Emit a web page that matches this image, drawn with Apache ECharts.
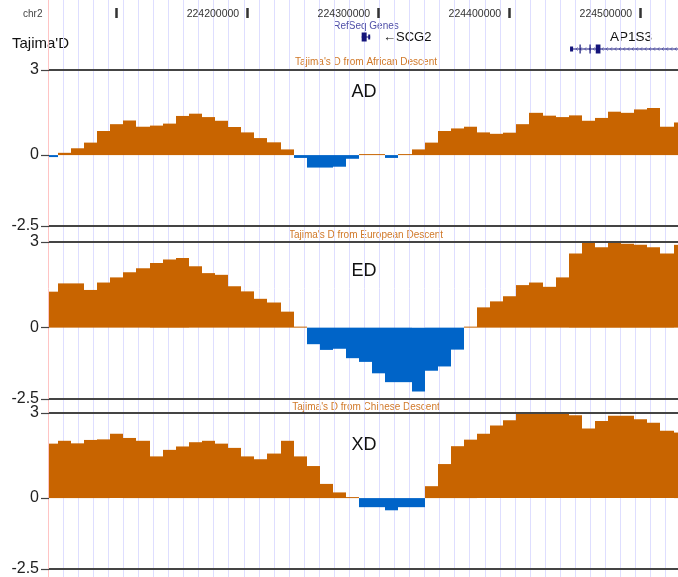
<!DOCTYPE html>
<html><head><meta charset="utf-8">
<script src="https://cdn.jsdelivr.net/npm/echarts@6/dist/echarts.min.js"></script>
<style>html,body{margin:0;padding:0;background:#fff}#main{width:678px;height:577px}</style>
</head><body><div id="main"></div>
<script>
// ---- view / genomic windows ----
const VIEW_START = 224048700;
const VIEW_END = 224528900;
const WINDOW_START = 224045500;   // first (partially visible) 10-kb window
const WINDOW_SIZE = 10000;

// ---- Tajima's D per 10-kb window (first entry is the clipped window at left edge) ----
const adValues = [-0.07, 0.08, 0.24, 0.44, 0.85, 1.09, 1.22, 1.0, 1.04, 1.11, 1.38, 1.46, 1.34, 1.21, 0.99, 0.8, 0.6, 0.45, 0.2,
  -0.1, -0.44, -0.44, -0.41, -0.13, 0.02, 0.02, -0.1, 0.02, 0.2, 0.44, 0.85, 0.94, 1.0, 0.8, 0.75, 0.79, 1.09, 1.49, 1.39, 1.34,
  1.4, 1.21, 1.31, 1.53, 1.49, 1.61, 1.66, 1.0, 1.15];
const edValues = [1.26, 1.55, 1.55, 1.32, 1.58, 1.76, 1.94, 2.08, 2.26, 2.39, 2.44, 2.15, 1.91, 1.85, 1.45, 1.27, 1.01, 0.88, 0.56,
  0.02, -0.58, -0.78, -0.74, -1.07, -1.2, -1.6, -1.91, -1.91, -2.24, -1.51, -1.36, -0.77, 0.02, 0.71, 0.92, 1.1, 1.49, 1.58, 1.43,
  1.76, 2.6, 3.0, 2.82, 3.0, 2.94, 2.9, 2.82, 2.6, 2.9];
const xdValues = [1.92, 2.02, 1.93, 2.05, 2.07, 2.27, 2.12, 2.02, 1.47, 1.7, 1.82, 1.97, 2.02, 1.92, 1.77, 1.47, 1.37, 1.57, 2.02,
  1.47, 1.13, 0.5, 0.2, 0.02, -0.32, -0.32, -0.43, -0.32, -0.32, 0.42, 1.2, 1.83, 2.06, 2.27, 2.56, 2.74, 3.0, 3.0, 3.0, 3.0,
  2.92, 2.45, 2.72, 2.9, 2.9, 2.78, 2.66, 2.37, 2.31];

// ---- axis ticks / labels ----
const rulerTicks = [224100000, 224200000, 224300000, 224400000, 224500000];
const rulerLabels = [224200000, 224300000, 224400000, 224500000];
const yTicks = [3, 0, -2.5];
const panelNames = ['AD', 'ED', 'XD'];
const panelTitles = ["Tajima's D from African Descent", "Tajima's D from European Descent", "Tajima's D from Chinese Descent"];

// ---- RefSeq genes: exons [start, end, kind] kind: 'cds' or 'utr' ----
const geneNames = ['SCG2', 'AP1S3'];
const geneRows = [0, 1];
const geneStarts = [224287400, 224446500];
const geneEnds = [224293900, 224570000];
const geneExons = [
  [[224287400, 224291200, 'cds'], [224292400, 224293900, 'utr']],
  [[224446500, 224448800, 'utr'], [224453700, 224454400, 'cds'], [224461300, 224462000, 'cds'], [224466100, 224469700, 'cds']]
];

const ORANGE = '#c86400', BLUE = '#0064c8', NAVY = '#14147a';
const FONT = 'Liberation Sans, Arial, sans-serif';

const chart = echarts.init(document.getElementById('main'), null, {renderer: 'canvas'});

function windowData(values) {
  return values.map((v, i) => [WINDOW_START + i * WINDOW_SIZE, WINDOW_START + (i + 1) * WINDOW_SIZE, v]);
}

function barRender(params, api) {
  const s = api.value(0), e = api.value(1), v = api.value(2);
  const p0 = api.coord([s, 0]);
  const p1 = api.coord([e, v]);
  const x0 = Math.round(p0[0]), x1 = Math.round(p1[0]);
  let top = Math.min(p0[1], p1[1]);
  let h = Math.abs(p1[1] - p0[1]);
  if (h < 1) { h = 1; top = v >= 0 ? p0[1] - 1 : p0[1]; }
  const cs = params.coordSys;
  const r = echarts.graphic.clipRectByRect({x: x0, y: top, width: x1 - x0, height: h},
    {x: cs.x, y: cs.y, width: cs.width, height: cs.height});
  return r && {type: 'rect', shape: r, style: {fill: v >= 0 ? ORANGE : BLUE}};
}

function geneRender(params, api) {
  const i = params.dataIndex;
  const cs = params.coordSys;
  const row = geneRows[i];
  const ps = api.coord([geneStarts[i], row]);
  const pe = api.coord([geneEnds[i], row]);
  const yc = ps[1];
  const L = Math.max(ps[0], cs.x), R = Math.min(pe[0], cs.x + cs.width);
  const clipR = {x: cs.x, y: cs.y - 20, width: cs.width, height: cs.height + 40};
  const children = [];
  if (R <= L) return {type: 'group', children};
  children.push({type: 'line', shape: {x1: L, y1: yc, x2: R, y2: yc}, style: {stroke: NAVY, lineWidth: 1}});
  if (R - L > 20) {
    for (let x = L + 6; x < R - 2; x += 4.3) {
      children.push({type: 'polyline', shape: {points: [[x + 1.5, yc - 1.6], [x, yc], [x + 1.5, yc + 1.6]]},
        style: {stroke: '#4a4aa0', fill: null, lineWidth: 0.8}});
    }
  }
  geneExons[i].forEach(ex => {
    const a = api.coord([ex[0], row])[0], b = api.coord([ex[1], row])[0];
    const h = ex[2] === 'cds' ? 9 : 5;
    const r = echarts.graphic.clipRectByRect({x: a, y: yc - h / 2, width: Math.max(b - a, 1.2), height: h}, clipR);
    if (r) children.push({type: 'rect', shape: r, style: {fill: NAVY}});
  });
  return {type: 'group', children};
}

const panelTops = [70, 242, 413];
const panelHeights = [156, 157, 158];
const panelValues = [adValues, edValues, xdValues];

const grid = [
  {left: 48, right: 0, top: 0, bottom: 0},           // background guidelines
  {left: 49, right: 0, top: 31, height: 24}           // ruler + genes
];
const xAxis = [
  {gridIndex: 0, type: 'value', min: 0, max: 41.83, interval: 1,
   axisLine: {show: false}, axisTick: {show: false}, axisLabel: {show: false},
   splitLine: {show: true, showMinLine: false, showMaxLine: false, lineStyle: {color: '#dedeff', width: 1}}},
  {gridIndex: 1, type: 'value', min: VIEW_START, max: VIEW_END, position: 'top', offset: 13,
   axisLine: {show: false}, splitLine: {show: false},
   axisTick: {show: true, customValues: rulerTicks, length: 10, lineStyle: {color: '#333', width: 2.5}},
   axisLabel: {show: true, customValues: rulerLabels, formatter: v => String(v), fontSize: 10.5, fontFamily: FONT,
     color: '#333', align: 'right', verticalAlign: 'middle', padding: [0, 8, 0, 0], margin: 4}}
];
const yAxis = [
  {gridIndex: 0, type: 'value', min: 0, max: 1, axisLabel: {show: false}, axisTick: {show: false},
   splitLine: {show: false}, axisLine: {show: true, lineStyle: {color: '#ffc4c4', width: 1}}},
  {gridIndex: 1, type: 'category', data: ['row1', 'row2'], inverse: true, show: false}
];
const series = [
  {type: 'custom', xAxisIndex: 1, yAxisIndex: 1, renderItem: geneRender, silent: true,
   data: geneNames.map((n, i) => [geneStarts[i], geneEnds[i], geneRows[i]]), encode: {x: [0, 1], y: 2}}
];

panelValues.forEach((vals, p) => {
  const gi = p + 2;
  grid.push({left: 49, right: 0, top: panelTops[p], height: panelHeights[p]});
  xAxis.push({gridIndex: gi, type: 'value', min: VIEW_START, max: VIEW_END, show: false});
  yAxis.push({gridIndex: gi, type: 'value', min: -2.5, max: 3,
    axisLine: {show: false}, splitLine: {show: false},
    axisTick: {show: true, customValues: yTicks, length: 8, lineStyle: {color: '#444', width: 1.2}},
    axisLabel: {show: true, customValues: yTicks, formatter: v => String(v), margin: 10, fontSize: 16,
      fontFamily: FONT, color: '#222'}});
  series.push({type: 'custom', xAxisIndex: gi, yAxisIndex: gi, renderItem: barRender, silent: true,
    data: windowData(vals), encode: {x: [0, 1], y: 2},
    markLine: {silent: true, symbol: ['none', 'none'], label: {show: false},
      lineStyle: {color: '#444', width: 2, type: 'solid'},
      data: [{yAxis: 3}, {yAxis: -2.5}]}});
});

const titleY = [62, 235, 407];
const nameY = [92, 271, 445];
const graphic = [
  {type: 'text', x: 23, y: 14, style: {text: 'chr2', fontSize: 10, fontFamily: FONT, fill: '#444', align: 'left', verticalAlign: 'middle'}},
  {type: 'text', x: 12, y: 44, style: {text: "Tajima'D", fontSize: 15, fontFamily: FONT, fill: '#111', align: 'left', verticalAlign: 'middle'}},
  {type: 'text', x: 366, y: 26, style: {text: 'RefSeq Genes', fontSize: 10, fontFamily: FONT, fill: '#5050a8', align: 'center', verticalAlign: 'middle'}},
  {type: 'text', x: 383, y: 37, style: {text: '\u2190SCG2', fontSize: 13, fontFamily: FONT, fill: '#111', align: 'left', verticalAlign: 'middle'}},
  {type: 'text', x: 610, y: 37, style: {text: 'AP1S3', fontSize: 13.5, fontFamily: FONT, fill: '#111', align: 'left', verticalAlign: 'middle'}}
];
panelTitles.forEach((t, p) => {
  graphic.push({type: 'text', x: 366, y: titleY[p], style: {text: t, fontSize: 10, fontFamily: FONT, fill: '#d07828', align: 'center', verticalAlign: 'middle'}});
  graphic.push({type: 'text', x: 364, y: nameY[p], style: {text: panelNames[p], fontSize: 18, fontFamily: FONT, fill: '#111', align: 'center', verticalAlign: 'middle'}});
});

chart.setOption({animation: false, backgroundColor: '#fff', grid, xAxis, yAxis, series, graphic});
</script></body></html>
